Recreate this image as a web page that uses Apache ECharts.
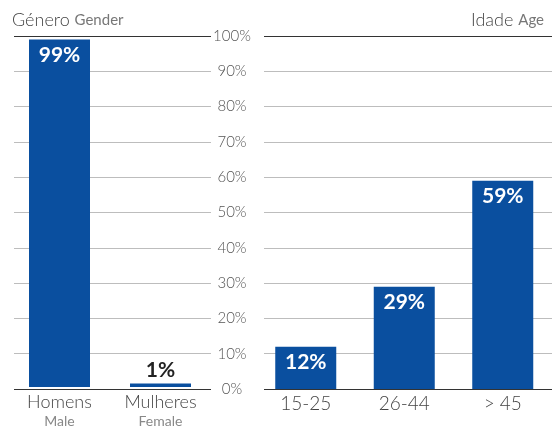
<!DOCTYPE html>
<html>
<head>
<meta charset="utf-8">
<script src="https://cdn.jsdelivr.net/npm/echarts@6/dist/echarts.min.js"></script>
<style>
  html, body { margin: 0; padding: 0; background: #fff; }
  #chart { width: 552px; height: 428px; }
</style>
</head>
<body>
<div id="chart"></div>
<script>
// ---------- data ----------
const genderPt = ['Homens', 'Mulheres'];
const genderEn = ['Male', 'Female'];
const genderValues = [99, 1];
const ageGroups = ['15-25', '26-44', '> 45'];
const ageValues = [12, 29, 59];

const BLUE = '#0a4f9f';
const FONT = 'Lato, "Open Sans", sans-serif';
const TOP = 36, BOTTOM = 39;

// gridline colours: 0% and 100% dark, others light grey
const lineColors = [];
for (let i = 0; i <= 10; i++) lineColors.push(i === 0 || i === 10 ? '#333' : '#bdbdbd');

const chart = echarts.init(document.getElementById('chart'), null, { renderer: 'canvas' });

const bgY = (idx, withLabels) => ({
  gridIndex: idx, type: 'value', min: 0, max: 100, interval: 10,
  position: 'right',
  axisLine: { show: false }, axisTick: { show: false },
  axisLabel: withLabels ? {
    show: true, align: 'center', margin: 21, formatter: '{value}%',
    color: '#555', fontSize: 15, fontFamily: FONT, fontWeight: 300
  } : { show: false },
  splitLine: { show: true, lineStyle: { color: lineColors, width: 1 } }
});

const barLabel = (v) => ({
  show: true,
  position: v >= 5 ? 'insideTop' : 'top',
  distance: v >= 5 ? 5 : 3,
  color: v >= 5 ? '#fff' : '#222',
  fontSize: 21, fontWeight: 'bold', fontFamily: FONT,
  formatter: '{c}%'
});

chart.setOption({
  animation: false,
  backgroundColor: '#fff',
  title: [
    { text: 'Género {s|Gender}', left: 7, top: 6,
      textStyle: { fontSize: 18, fontWeight: 300, color: '#444', fontFamily: FONT,
        rich: { s: { fontSize: 15, color: '#777', fontFamily: FONT, fontWeight: 400 } } } },
    { text: 'Idade {s|Age}', right: 3, top: 6,
      textStyle: { fontSize: 18, fontWeight: 300, color: '#444', fontFamily: FONT,
        rich: { s: { fontSize: 15, color: '#777', fontFamily: FONT, fontWeight: 400 } } } }
  ],
  grid: [
    { left: 14, width: 197, top: TOP, bottom: BOTTOM },
    { left: 9, width: 202, top: TOP, bottom: BOTTOM },
    { left: 264, right: 0, top: TOP, bottom: BOTTOM },
    { left: 256.5, width: 300, top: TOP, bottom: BOTTOM }
  ],
  xAxis: [
    { gridIndex: 0, type: 'value', show: false },
    { gridIndex: 1, type: 'category', data: genderPt,
      axisLine: { show: false }, axisTick: { show: false },
      axisLabel: {
        margin: 5, interval: 0,
        formatter: (v, i) => '{a|' + v + '}\n{b|' + genderEn[i] + '}',
        rich: {
          a: { fontSize: 18, color: '#444', fontFamily: FONT, fontWeight: 300, lineHeight: 20 },
          b: { fontSize: 14, color: '#888', fontFamily: FONT, lineHeight: 18 }
        }
      } },
    { gridIndex: 2, type: 'value', show: false },
    { gridIndex: 3, type: 'category', data: ageGroups,
      axisLine: { show: false }, axisTick: { show: false },
      axisLabel: { margin: 5, interval: 0, fontSize: 19, color: '#444', fontFamily: FONT, fontWeight: 300 } }
  ],
  yAxis: [
    bgY(0, true),
    { gridIndex: 1, type: 'value', min: 0, max: 100, show: false },
    bgY(2, false),
    { gridIndex: 3, type: 'value', min: 0, max: 100, show: false }
  ],
  series: [
    { type: 'bar', xAxisIndex: 1, yAxisIndex: 1, barWidth: 61,
      data: genderValues.map(v => ({ value: v, label: barLabel(v) })),
      itemStyle: { color: BLUE } },
    { type: 'bar', xAxisIndex: 3, yAxisIndex: 3, barWidth: 61,
      data: ageValues.map(v => ({ value: v, label: barLabel(v) })),
      itemStyle: { color: BLUE } }
  ]
});
</script>
</body>
</html>
